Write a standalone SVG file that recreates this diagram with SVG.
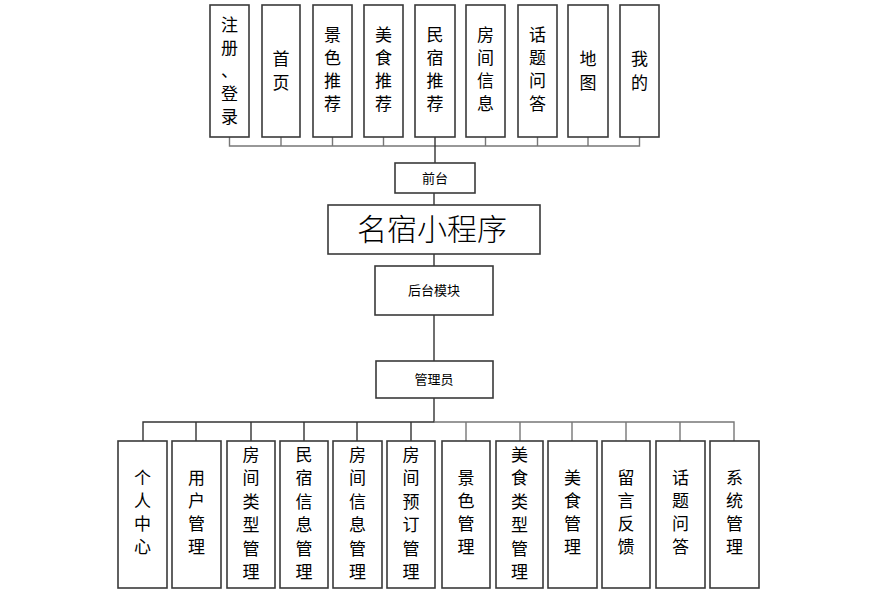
<svg xmlns="http://www.w3.org/2000/svg" width="872" height="598" viewBox="0 0 872 598">
<style>
.box{fill:#fff;stroke:#3a3a3a;stroke-width:1.6}
.t{font-family:"Noto Sans CJK SC","Noto Sans",sans-serif;font-size:17px;fill:#000;text-anchor:middle}
.s{font-family:"Noto Sans CJK SC","Noto Sans",sans-serif;font-size:13px;fill:#000;text-anchor:middle}
.big{font-family:"Noto Sans CJK SC","Noto Sans",sans-serif;font-size:30px;fill:#000;text-anchor:middle;font-weight:300}
.c{fill:none;stroke:#333;stroke-width:1.4}
.g{fill:none;stroke:#777;stroke-width:1.4}
</style>
<rect width="872" height="598" fill="#fff"/>
<g id="connectors">
<path class="g" d="M229.5 137V146H639.5V137M281 137V146M332.5 137V146M383.5 137V146M485.5 137V146M537.5 137V146M588 137V146"/>
<path class="c" d="M435 137V163M434 193V205M434 254V266M434 315V361"/>
<path class="c" d="M434 398V422H143V441M196 422V441M251 422V441M304 422V441M357 422V441M411 422V441"/>
<path class="g" d="M434 422H734V441M466 422V441M520 422V441M572 422V441M626 422V441M680 422V441"/>
</g>
<g id="n_zhuce"><rect class="box" x="210" y="5" width="39" height="132"/><text class="t" x="229.5" y="31"><tspan x="229.5">注</tspan><tspan x="229.5" dy="23">册</tspan><tspan x="229.5" dy="23">、</tspan><tspan x="229.5" dy="23">登</tspan><tspan x="229.5" dy="23">录</tspan></text></g>
<g id="n_shouye"><rect class="box" x="262" y="5" width="38" height="132"/><text class="t" x="281" y="65"><tspan x="281">首</tspan><tspan x="281" dy="24">页</tspan></text></g>
<g id="n_jingse"><rect class="box" x="313" y="5" width="39" height="132"/><text class="t" x="332.5" y="41"><tspan x="332.5">景</tspan><tspan x="332.5" dy="23">色</tspan><tspan x="332.5" dy="23">推</tspan><tspan x="332.5" dy="23">荐</tspan></text></g>
<g id="n_meishi"><rect class="box" x="364" y="5" width="39" height="132"/><text class="t" x="383.5" y="41"><tspan x="383.5">美</tspan><tspan x="383.5" dy="23">食</tspan><tspan x="383.5" dy="23">推</tspan><tspan x="383.5" dy="23">荐</tspan></text></g>
<g id="n_minsu"><rect class="box" x="415" y="5" width="40" height="132"/><text class="t" x="435" y="41"><tspan x="435">民</tspan><tspan x="435" dy="23">宿</tspan><tspan x="435" dy="23">推</tspan><tspan x="435" dy="23">荐</tspan></text></g>
<g id="n_fangjian"><rect class="box" x="466" y="5" width="39" height="132"/><text class="t" x="485.5" y="41"><tspan x="485.5">房</tspan><tspan x="485.5" dy="23">间</tspan><tspan x="485.5" dy="23">信</tspan><tspan x="485.5" dy="23">息</tspan></text></g>
<g id="n_huati"><rect class="box" x="518" y="5" width="39" height="132"/><text class="t" x="537.5" y="41"><tspan x="537.5">话</tspan><tspan x="537.5" dy="23">题</tspan><tspan x="537.5" dy="23">问</tspan><tspan x="537.5" dy="23">答</tspan></text></g>
<g id="n_ditu"><rect class="box" x="568" y="5" width="40" height="132"/><text class="t" x="588" y="65"><tspan x="588">地</tspan><tspan x="588" dy="24">图</tspan></text></g>
<g id="n_wode"><rect class="box" x="620" y="5" width="39" height="132"/><text class="t" x="639.5" y="65"><tspan x="639.5">我</tspan><tspan x="639.5" dy="24">的</tspan></text></g>
<g id="n_qiantai"><rect class="box" x="395" y="163" width="80" height="30"/><text class="s" x="435" y="183">前台</text></g>
<g id="n_main"><rect class="box" x="328" y="205" width="212" height="49"/><text class="big" x="432" y="240">名宿小程序</text></g>
<g id="n_houtai"><rect class="box" x="375" y="266" width="118" height="49"/><text class="s" x="434" y="295">后台模块</text></g>
<g id="n_admin"><rect class="box" x="376" y="361" width="117" height="37"/><text class="s" x="434" y="384">管理员</text></g>
<g id="b1"><rect class="box" x="118" y="441" width="49" height="147"/><text class="t" x="142.5" y="484"><tspan x="142.5">个</tspan><tspan x="142.5" dy="23">人</tspan><tspan x="142.5" dy="23">中</tspan><tspan x="142.5" dy="23">心</tspan></text></g>
<g id="b2"><rect class="box" x="172" y="441" width="49" height="147"/><text class="t" x="196.5" y="484"><tspan x="196.5">用</tspan><tspan x="196.5" dy="23">户</tspan><tspan x="196.5" dy="23">管</tspan><tspan x="196.5" dy="23">理</tspan></text></g>
<g id="b3"><rect class="box" x="227" y="441" width="48" height="147"/><text class="t" x="251" y="461"><tspan x="251">房</tspan><tspan x="251" dy="23.4">间</tspan><tspan x="251" dy="23.4">类</tspan><tspan x="251" dy="23.4">型</tspan><tspan x="251" dy="23.4">管</tspan><tspan x="251" dy="23.4">理</tspan></text></g>
<g id="b4"><rect class="box" x="280" y="441" width="48" height="147"/><text class="t" x="304" y="461"><tspan x="304">民</tspan><tspan x="304" dy="23.4">宿</tspan><tspan x="304" dy="23.4">信</tspan><tspan x="304" dy="23.4">息</tspan><tspan x="304" dy="23.4">管</tspan><tspan x="304" dy="23.4">理</tspan></text></g>
<g id="b5"><rect class="box" x="333" y="441" width="49" height="147"/><text class="t" x="357.5" y="461"><tspan x="357.5">房</tspan><tspan x="357.5" dy="23.4">间</tspan><tspan x="357.5" dy="23.4">信</tspan><tspan x="357.5" dy="23.4">息</tspan><tspan x="357.5" dy="23.4">管</tspan><tspan x="357.5" dy="23.4">理</tspan></text></g>
<g id="b6"><rect class="box" x="387" y="441" width="48" height="147"/><text class="t" x="411" y="461"><tspan x="411">房</tspan><tspan x="411" dy="23.4">间</tspan><tspan x="411" dy="23.4">预</tspan><tspan x="411" dy="23.4">订</tspan><tspan x="411" dy="23.4">管</tspan><tspan x="411" dy="23.4">理</tspan></text></g>
<g id="b7"><rect class="box" x="442" y="441" width="48" height="147"/><text class="t" x="466" y="484"><tspan x="466">景</tspan><tspan x="466" dy="23">色</tspan><tspan x="466" dy="23">管</tspan><tspan x="466" dy="23">理</tspan></text></g>
<g id="b8"><rect class="box" x="496" y="441" width="47" height="147"/><text class="t" x="519.5" y="461"><tspan x="519.5">美</tspan><tspan x="519.5" dy="23.4">食</tspan><tspan x="519.5" dy="23.4">类</tspan><tspan x="519.5" dy="23.4">型</tspan><tspan x="519.5" dy="23.4">管</tspan><tspan x="519.5" dy="23.4">理</tspan></text></g>
<g id="b9"><rect class="box" x="548" y="441" width="49" height="147"/><text class="t" x="572.5" y="484"><tspan x="572.5">美</tspan><tspan x="572.5" dy="23">食</tspan><tspan x="572.5" dy="23">管</tspan><tspan x="572.5" dy="23">理</tspan></text></g>
<g id="b10"><rect class="box" x="602" y="441" width="48" height="147"/><text class="t" x="626" y="484"><tspan x="626">留</tspan><tspan x="626" dy="23">言</tspan><tspan x="626" dy="23">反</tspan><tspan x="626" dy="23">馈</tspan></text></g>
<g id="b11"><rect class="box" x="656" y="441" width="49" height="147"/><text class="t" x="680.5" y="484"><tspan x="680.5">话</tspan><tspan x="680.5" dy="23">题</tspan><tspan x="680.5" dy="23">问</tspan><tspan x="680.5" dy="23">答</tspan></text></g>
<g id="b12"><rect class="box" x="710" y="441" width="49" height="147"/><text class="t" x="734.5" y="484"><tspan x="734.5">系</tspan><tspan x="734.5" dy="23">统</tspan><tspan x="734.5" dy="23">管</tspan><tspan x="734.5" dy="23">理</tspan></text></g>
</svg>
